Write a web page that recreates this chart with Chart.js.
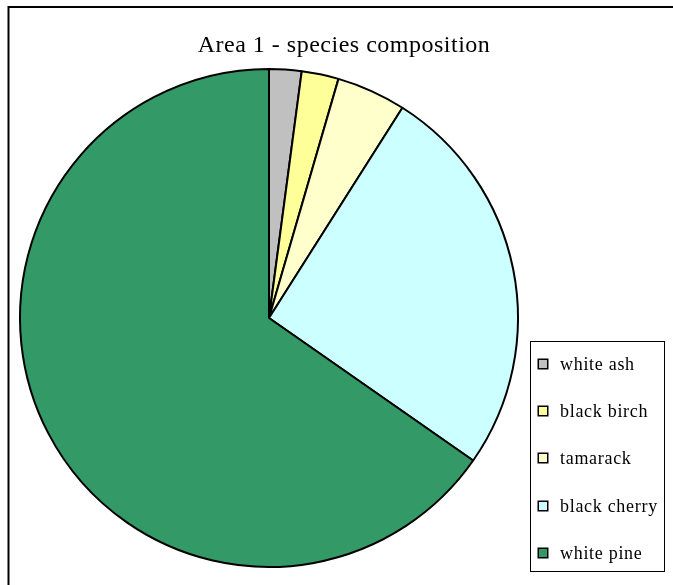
<!DOCTYPE html>
<html>
<head>
<meta charset="utf-8">
<script src="https://cdn.jsdelivr.net/npm/chart.js@4.4.1/dist/chart.umd.min.js"></script>
<style>
  html, body { margin: 0; padding: 0; background: #ffffff; }
  #wrap { position: relative; width: 673px; height: 585px; overflow: hidden; }
  canvas { display: block; }
</style>
</head>
<body>
<div id="wrap"><canvas id="c" width="673" height="585"></canvas></div>
<script>
// Species shares (percent of stems) in Area 1
const titleText = 'Area 1 - species composition';
const species = ['white ash', 'black birch', 'tamarack', 'black cherry', 'white pine'];
const shares = [2.1, 2.4, 4.5, 25.7, 65.3];
const sliceColors = ['#C0C0C0', '#FFFF99', '#FFFFCC', '#CCFFFF', '#339966'];

const SERIF = '"Liberation Serif", "Times New Roman", "DejaVu Serif", serif';

// Frame, title and boxed legend drawn around the pie
const decorations = {
  id: 'decorations',
  beforeDraw(chart) {
    const ctx = chart.ctx;
    ctx.save();
    ctx.fillStyle = '#ffffff';
    ctx.fillRect(0, 0, chart.width, chart.height);
    // outer frame (runs off the right and bottom edges)
    ctx.strokeStyle = '#000000';
    ctx.lineWidth = 2;
    ctx.strokeRect(8.5, 7, 700, 620);
    ctx.restore();
  },
  afterDraw(chart) {
    const ctx = chart.ctx;
    ctx.save();
    // title
    ctx.fillStyle = '#000000';
    ctx.font = '24px ' + SERIF;
    ctx.letterSpacing = '0.5px';
    ctx.textAlign = 'center';
    ctx.textBaseline = 'alphabetic';
    ctx.fillText(titleText, 344, 52);

    // legend box
    const bx = 530.5, by = 341.5, bw = 134, bh = 230;
    ctx.fillStyle = '#ffffff';
    ctx.fillRect(bx, by, bw, bh);
    ctx.strokeStyle = '#000000';
    ctx.lineWidth = 1;
    ctx.strokeRect(bx, by, bw, bh);

    const labels = chart.data.labels;
    const colors = chart.data.datasets[0].backgroundColor;
    ctx.font = '18px ' + SERIF;
    ctx.letterSpacing = '0.7px';
    ctx.textAlign = 'left';
    labels.forEach((lab, i) => {
      const cy = 364 + i * 47.2;
      const sy = Math.round(cy - 5);
      ctx.fillStyle = colors[i];
      ctx.fillRect(538, sy, 10, 10);
      ctx.strokeStyle = '#000000';
      ctx.lineWidth = 1.5;
      ctx.strokeRect(538.25, sy + 0.25, 9.5, 9.5);
      ctx.fillStyle = '#000000';
      ctx.fillText(lab, 560, cy + 6);
    });
    ctx.restore();
  }
};

new Chart(document.getElementById('c'), {
  type: 'pie',
  data: {
    labels: species,
    datasets: [{
      data: shares,
      backgroundColor: sliceColors,
      borderColor: '#000000',
      borderWidth: 2,
      hoverOffset: 0
    }]
  },
  options: {
    responsive: false,
    animation: false,
    radius: 249,
    layout: { padding: { left: 19, right: 154, top: 68, bottom: 17 } },
    plugins: {
      legend: { display: false },
      title: { display: false },
      tooltip: { enabled: false }
    }
  },
  plugins: [decorations]
});
</script>
</body>
</html>
